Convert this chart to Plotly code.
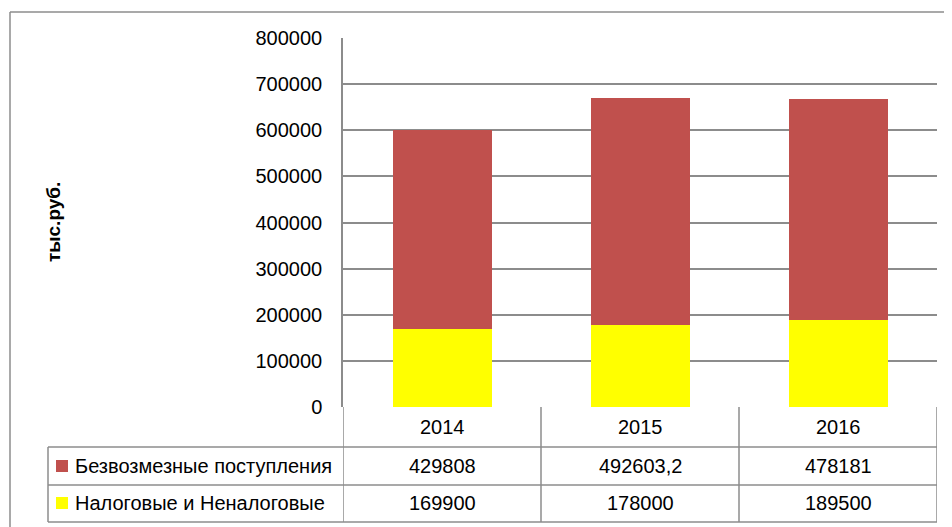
import plotly.graph_objects as go

years = ["2014", "2015", "2016"]
series_names = ["Безвозмезные поступления", "Налоговые и Неналоговые"]
bezvozmezd = [429808, 492603.2, 478181]
nalogovye = [169900, 178000, 189500]
colors = {"Безвозмезные поступления": "#C0504D", "Налоговые и Неналоговые": "#FFFF00"}
y_ticks = [0, 100000, 200000, 300000, 400000, 500000, 600000, 700000, 800000]
y_title = "тыс.руб."

W, H = 952, 527
OFF = 8  # page body margin
FONT = "Liberation Sans"
FS = 20
GRID = "#8C8C8C"

def px(x):
    return (x - OFF) / W

def py(y):
    return 1 - (y - OFF) / H

x_dom = [px(343), px(937)]
y_dom = [py(407), py(38)]

fig = go.Figure()
fig.add_trace(go.Bar(x=years, y=nalogovye, name=series_names[1],
                     marker=dict(color=colors[series_names[1]], line=dict(width=0))))
fig.add_trace(go.Bar(x=years, y=bezvozmezd, name=series_names[0],
                     marker=dict(color=colors[series_names[0]], line=dict(width=0))))

def fmt(v):
    s = str(int(v)) if float(v).is_integer() else repr(float(v))
    return s.replace(".", ",")

shapes = []
annotations = []
line = dict(color=GRID, width=1.5)

# outer chart border (left and top)
shapes.append(dict(type="line", xref="paper", yref="paper", x0=px(10), x1=px(10), y0=py(12), y1=0, line=line))
shapes.append(dict(type="line", xref="paper", yref="paper", x0=px(10), x1=1, y0=py(12), y1=py(12), line=line))

# table: horizontal lines
row_lines = [447, 485, 522]
for r in row_lines:
    shapes.append(dict(type="line", xref="paper", yref="paper", x0=px(48), x1=px(937), y0=py(r), y1=py(r), line=line))
# vertical lines at category boundaries
for b in [-0.5, 0.5, 1.5, 2.5]:
    shapes.append(dict(type="line", xref="x", yref="paper", x0=b, x1=b, y0=py(407), y1=py(522), line=line))
# label column left edge
shapes.append(dict(type="line", xref="paper", yref="paper", x0=px(48), x1=px(48), y0=py(447), y1=py(522), line=line))

txt = dict(family=FONT, size=FS, color="black")
# header row (years)
for i, yr in enumerate(years):
    annotations.append(dict(x=i, y=py(427), xref="x", yref="paper", text=yr, showarrow=False,
                            xanchor="center", yanchor="middle", font=txt))

rows = [(series_names[0], bezvozmezd, 466), (series_names[1], nalogovye, 503)]
for name, vals, yc in rows:
    shapes.append(dict(type="rect", xref="paper", yref="paper", x0=px(56), x1=px(68), y0=py(yc - 6), y1=py(yc + 6),
                       fillcolor=colors[name], line=dict(width=0)))
    annotations.append(dict(x=px(73), y=py(yc), xref="paper", yref="paper", text=name, showarrow=False,
                            xanchor="left", yanchor="middle", font=txt))
    for i, v in enumerate(vals):
        annotations.append(dict(x=i, y=py(yc), xref="x", yref="paper", text=fmt(v), showarrow=False,
                                xanchor="center", yanchor="middle", font=txt))

annotations.append(dict(x=px(54), y=py(222), xref="paper", yref="paper", text="<b>" + y_title + "</b>",
                        showarrow=False, textangle=-90, xanchor="center", yanchor="middle",
                        font=dict(family=FONT, size=19, color="black")))

fig.update_layout(
    width=W, height=H,
    margin=dict(l=0, r=0, t=0, b=0, pad=0, autoexpand=False),
    paper_bgcolor="white", plot_bgcolor="white",
    barmode="stack", bargap=0.5,
    showlegend=False,
    font=dict(family=FONT, size=FS, color="black"),
    xaxis=dict(type="category", domain=x_dom, showticklabels=False, showgrid=False, zeroline=False,
               showline=False, range=[-0.5, 2.5], fixedrange=True),
    yaxis=dict(domain=y_dom, range=[0, 800000], tickvals=y_ticks, ticktext=[str(t) for t in y_ticks],
               showgrid=True, gridcolor=GRID, gridwidth=1.5, zeroline=False,
               showline=True, linecolor=GRID, linewidth=1.5, ticks="", ticklabelstandoff=15,
               tickfont=txt),
    shapes=shapes, annotations=annotations,
)

fig.write_html("out.html")
